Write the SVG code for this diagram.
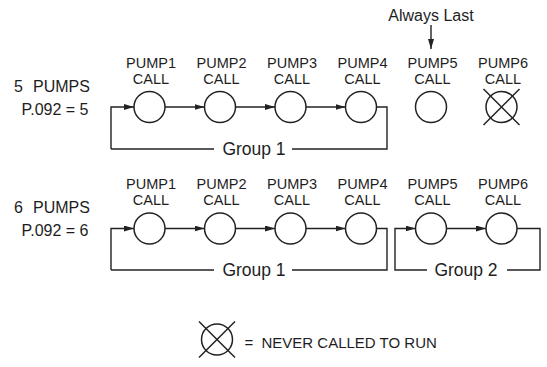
<svg xmlns="http://www.w3.org/2000/svg" width="547" height="367" viewBox="0 0 547 367">
<defs>
<style>
text{font-family:"Liberation Sans",Arial,sans-serif;fill:#1e1e1e}
.lbl{font-size:14.5px;text-anchor:middle}
.side{font-size:16px}
.grp{font-size:17.5px;text-anchor:middle}
.pump{fill:#fff;stroke:#222;stroke-width:1.5}
.x{stroke:#222;stroke-width:1.5}
.con{fill:none;stroke:#222;stroke-width:1.4}
</style>
<marker id="ah" markerUnits="userSpaceOnUse" markerWidth="11" markerHeight="7" refX="10" refY="3" orient="auto">
<path d="M0,0 L10,3 L0,6 z" fill="#222"/>
</marker>
</defs>
<rect width="547" height="367" fill="#fff"/>

<!-- Row 1 labels -->
<g id="row1-label">
<text class="side" x="14" y="91.5">5<tspan x="33">PUMPS</tspan></text>
<text class="side" x="88.5" y="115" text-anchor="end">P.092 = 5</text>
</g>
<g id="always-last">
<text x="431" y="21" font-size="16" text-anchor="middle">Always Last</text>
</g>

<g id="r1p1"><text class="lbl" x="151" y="68">PUMP1</text><text class="lbl" x="151" y="83.5">CALL</text><circle class="pump" cx="149.5" cy="107" r="15.5"/></g>
<g id="r1p2"><text class="lbl" x="221.5" y="68">PUMP2</text><text class="lbl" x="221.5" y="83.5">CALL</text><circle class="pump" cx="220" cy="107" r="15.5"/></g>
<g id="r1p3"><text class="lbl" x="292" y="68">PUMP3</text><text class="lbl" x="292" y="83.5">CALL</text><circle class="pump" cx="290.5" cy="107" r="15.5"/></g>
<g id="r1p4"><text class="lbl" x="362.5" y="68">PUMP4</text><text class="lbl" x="362.5" y="83.5">CALL</text><circle class="pump" cx="361" cy="107" r="15.5"/></g>
<g id="r1p5"><text class="lbl" x="432.5" y="68">PUMP5</text><text class="lbl" x="432.5" y="83.5">CALL</text><circle class="pump" cx="431" cy="107" r="15.5"/></g>
<g id="r1p6"><text class="lbl" x="503" y="68">PUMP6</text><text class="lbl" x="503" y="83.5">CALL</text><circle class="pump" cx="501.5" cy="107" r="15.5"/><path class="x" d="M483.5,89 L519.5,125 M519.5,89 L483.5,125"/></g>

<!-- Row 2 labels -->
<g id="row2-label">
<text class="side" x="14" y="212.5">6<tspan x="33">PUMPS</tspan></text>
<text class="side" x="88.5" y="236" text-anchor="end">P.092 = 6</text>
</g>

<g id="r2p1"><text class="lbl" x="151" y="189">PUMP1</text><text class="lbl" x="151" y="204.5">CALL</text><circle class="pump" cx="149.5" cy="228.5" r="15.5"/></g>
<g id="r2p2"><text class="lbl" x="221.5" y="189">PUMP2</text><text class="lbl" x="221.5" y="204.5">CALL</text><circle class="pump" cx="220" cy="228.5" r="15.5"/></g>
<g id="r2p3"><text class="lbl" x="292" y="189">PUMP3</text><text class="lbl" x="292" y="204.5">CALL</text><circle class="pump" cx="290.5" cy="228.5" r="15.5"/></g>
<g id="r2p4"><text class="lbl" x="362.5" y="189">PUMP4</text><text class="lbl" x="362.5" y="204.5">CALL</text><circle class="pump" cx="361" cy="228.5" r="15.5"/></g>
<g id="r2p5"><text class="lbl" x="432.5" y="189">PUMP5</text><text class="lbl" x="432.5" y="204.5">CALL</text><circle class="pump" cx="431" cy="228.5" r="15.5"/></g>
<g id="r2p6"><text class="lbl" x="503" y="189">PUMP6</text><text class="lbl" x="503" y="204.5">CALL</text><circle class="pump" cx="501.5" cy="228.5" r="15.5"/></g>

<!-- Group labels -->
<g id="groups">
<text class="grp" x="254" y="155">Group 1</text>
<text class="grp" x="254" y="276">Group 1</text>
<text class="grp" x="466" y="276">Group 2</text>
</g>

<!-- Connectors -->
<g id="connectors">
<path class="con" d="M431,25 V49" marker-end="url(#ah)"/>
<!-- row 1 -->
<path class="con" d="M111,149 V107 H134" marker-end="url(#ah)"/>
<path class="con" d="M111,149 H214"/>
<path class="con" d="M292,149 H387 V107 H376.5"/>
<path class="con" d="M165,107 H204.5" marker-end="url(#ah)"/>
<path class="con" d="M235.5,107 H275" marker-end="url(#ah)"/>
<path class="con" d="M306,107 H345.5" marker-end="url(#ah)"/>
<!-- row 2 -->
<path class="con" d="M111,270 V228.5 H134" marker-end="url(#ah)"/>
<path class="con" d="M111,270 H214"/>
<path class="con" d="M292,270 H387 V228.5 H376.5"/>
<path class="con" d="M165,228.5 H204.5" marker-end="url(#ah)"/>
<path class="con" d="M235.5,228.5 H275" marker-end="url(#ah)"/>
<path class="con" d="M306,228.5 H345.5" marker-end="url(#ah)"/>
<path class="con" d="M427,270 H395 V228.5 H415.5" marker-end="url(#ah)"/>
<path class="con" d="M446.5,228.5 H486" marker-end="url(#ah)"/>
<path class="con" d="M517,228.5 H540 V270 H507"/>
</g>

<!-- Legend -->
<g id="legend">
<circle class="pump" cx="217" cy="339.5" r="15.5"/>
<path class="x" d="M199,321.5 L235,357.5 M235,321.5 L199,357.5"/>
<text x="244.5" y="347.5" font-size="15">=</text>
<text x="261.5" y="347.5" font-size="15">NEVER CALLED TO RUN</text>
</g>
</svg>
